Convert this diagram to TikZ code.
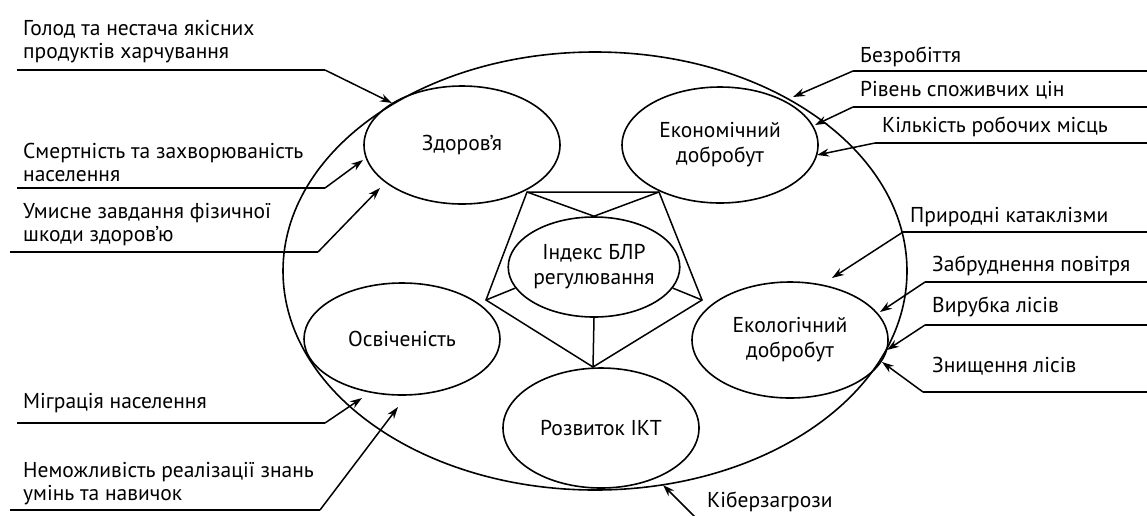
\documentclass[tikz,border=0pt]{standalone}
\usepackage{fontspec}
\setmainfont{PT Sans}
\usetikzlibrary{shapes.geometric,arrows.meta}
\begin{document}
\begin{tikzpicture}[x=1pt,y=-1pt,
  every node/.style={font=\fontsize{21.5}{23}\selectfont},
  oval/.style={draw,ellipse,line width=1.6pt,inner sep=0pt,minimum width=196pt,minimum height=118pt,align=center,font=\fontsize{21.5}{25}\selectfont},
  lbl/.style={anchor=base west,inner sep=0pt,align=left},
  ln/.style={line width=1.5pt},
  arr/.style={line width=1.5pt,-{Stealth[length=12pt,width=8pt]}}]
\useasboundingbox (0,0) rectangle (1147,515);
% big ellipse
\node[draw,ellipse,line width=1.6pt,inner sep=0pt,minimum width=624pt,minimum height=438pt] (big) at (595,271) {};
% inner ellipses
\node[oval] (zd) at (462,145) {Здоров’я};
\node[oval,minimum height=116pt] (ek) at (720,145) {Економічний\\добробут};
\node[oval,minimum height=112pt] (os) at (402,339) {Освіченість};
\node[oval,minimum height=116pt] (eko) at (790,340) {Екологічний\\добробут};
\node[oval,minimum height=120pt] (ikt) at (601,428) {Розвиток ІКТ};
\node[oval,minimum width=170pt,minimum height=100pt] (idx) at (594,267) {Індекс БЛР\\регулювання};
% pentagon
\coordinate (p1) at (527,192);
\coordinate (p2) at (659,192);
\coordinate (p3) at (702,300);
\coordinate (p4) at (593,367);
\coordinate (p5) at (486,300);
\draw[ln] (p1) -- (p2) -- (p3) -- (p4) -- (p5) -- cycle;
\draw[ln] (p1) -- (idx.north) -- (p2);
\draw[ln] (p5) -- (idx.195);
\draw[ln] (p3) -- (idx.345);
\draw[ln] (p4) -- (idx.south);
% left labels (anchor = baseline of last line)
\node[lbl] (l1) at (23,58) {Голод та нестача якісних\\продуктів харчування};
\node[lbl] (l2) at (23,181) {Смертність та захворюваність\\населення};
\node[lbl] (l3) at (23,241) {Умисне завдання фізичної\\шкоди здоров'ю};
\node[lbl] (l4) at (23,408) {Міграція населення};
\node[lbl] (l5) at (23,500) {Неможливість реалізації знань\\умінь та навичок};
\coordinate (a1) at (17,70);  \coordinate (b1) at (325,70);  \coordinate (t1) at (392,103);
\coordinate (a2) at (17,188); \coordinate (b2) at (325,188); \coordinate (t2) at (363,160);
\coordinate (a3) at (10,252); \coordinate (b3) at (318,252); \coordinate (t3) at (380,188);
\coordinate (a4) at (17,423); \coordinate (b4) at (325,423); \coordinate (t4) at (362,398);
\coordinate (a5) at (10,510); \coordinate (b5) at (320,510); \coordinate (t5) at (398,407);
\foreach \i in {1,...,5} {\draw[ln] (a\i) -- (b\i); \draw[arr] (b\i) -- (t\i);}
% right labels
\node[lbl] (r1) at (860,62) {Безробіття};
\node[lbl] (r2) at (860,96) {Рівень споживчих цін};
\node[lbl] (r3) at (882,132) {Кількість робочих місць};
\node[lbl] (r4) at (910,222) {Природні катаклізми};
\node[lbl] (r5) at (932,271) {Забруднення повітря};
\node[lbl] (r6) at (932,312) {Вирубка лісів};
\node[lbl] (r7) at (932,372) {Знищення лісів};
\node[lbl] (r8) at (707,507) {Кіберзагрози};
\coordinate (c1) at (1147,71);  \coordinate (d1) at (853,71);  \coordinate (u1) at (793,97);
\coordinate (c2) at (1147,107); \coordinate (d2) at (853,107); \coordinate (u2) at (815,125);
\coordinate (c3) at (1147,143); \coordinate (d3) at (875,143); \coordinate (u3) at (817,155);
\coordinate (c4) at (1147,232); \coordinate (d4) at (903,232); \coordinate (u4) at (832,278);
\coordinate (c5) at (1147,282); \coordinate (d5) at (925,282); \coordinate (u5) at (880,312);
\coordinate (c6) at (1147,325); \coordinate (d6) at (925,325); \coordinate (u6) at (887,350);
\coordinate (c7) at (1147,392); \coordinate (d7) at (923,392); \coordinate (u7) at (882,362);
\foreach \i in {1,...,7} {\draw[ln] (c\i) -- (d\i); \draw[arr] (d\i) -- (u\i);}
\coordinate (d8) at (695,517); \coordinate (u8) at (663,485);
\draw[arr] (d8) -- (u8);
\end{tikzpicture}
\end{document}
